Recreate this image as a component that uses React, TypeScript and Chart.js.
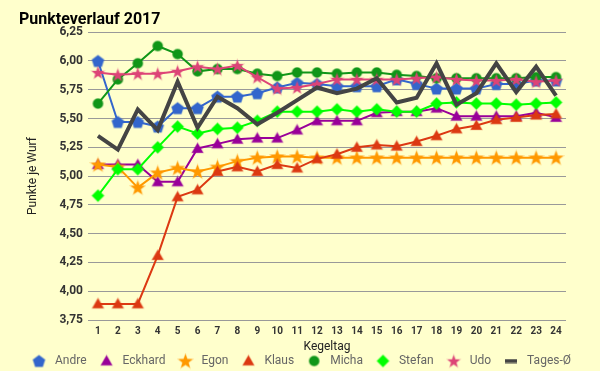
import React, { useEffect, useRef } from 'react';
import { Chart, registerables } from 'chart.js';

Chart.register(...registerables);

const kegeltage = ['1','2','3','4','5','6','7','8','9','10','11','12','13','14','15','16','17','18','19','20','21','22','23','24'];

const andre = [6.00, 5.47, 5.47, 5.43, 5.59, 5.59, 5.69, 5.69, 5.72, 5.77, 5.81, 5.80, 5.78, 5.78, 5.78, 5.84, 5.80, 5.76, 5.76, 5.76, 5.80, 5.80, 5.83, 5.83];
const eckhard = [5.10, 5.10, 5.10, 4.95, 4.95, 5.24, 5.28, 5.32, 5.33, 5.33, 5.40, 5.48, 5.48, 5.48, 5.55, 5.56, 5.56, 5.59, 5.52, 5.52, 5.52, 5.52, 5.55, 5.51];
const egon = [5.10, 5.08, 4.90, 5.03, 5.07, 5.04, 5.08, 5.13, 5.16, 5.17, 5.17, 5.16, 5.16, 5.16, 5.16, 5.16, 5.16, 5.16, 5.16, 5.16, 5.16, 5.16, 5.16, 5.16];
const klaus = [3.89, 3.89, 3.89, 4.31, 4.82, 4.88, 5.04, 5.08, 5.04, 5.10, 5.07, 5.15, 5.19, 5.25, 5.27, 5.26, 5.30, 5.35, 5.41, 5.44, 5.49, 5.51, 5.53, 5.54];
const micha = [5.63, 5.84, 5.98, 6.13, 6.06, 5.91, 5.93, 5.93, 5.89, 5.87, 5.90, 5.90, 5.89, 5.90, 5.90, 5.88, 5.87, 5.85, 5.85, 5.85, 5.85, 5.85, 5.86, 5.86];
const stefan = [4.83, 5.06, 5.06, 5.25, 5.43, 5.37, 5.41, 5.42, 5.48, 5.56, 5.56, 5.56, 5.58, 5.56, 5.58, 5.56, 5.56, 5.63, 5.64, 5.63, 5.63, 5.62, 5.63, 5.64];
const udo = [5.90, 5.88, 5.89, 5.89, 5.91, 5.95, 5.93, 5.96, 5.86, 5.76, 5.77, 5.80, 5.84, 5.84, 5.84, 5.84, 5.85, 5.86, 5.84, 5.83, 5.83, 5.84, 5.82, 5.83];
const tagesSchnitt = [5.35, 5.23, 5.58, 5.40, 5.82, 5.42, 5.69, 5.59, 5.45, 5.55, 5.66, 5.77, 5.72, 5.76, 5.85, 5.64, 5.68, 5.98, 5.62, 5.72, 5.98, 5.73, 5.95, 5.70];

const seriesNames = ['Andre', 'Eckhard', 'Egon', 'Klaus', 'Micha', 'Stefan', 'Udo', 'Tages-Ø'];
const seriesValues = [andre, eckhard, egon, klaus, micha, stefan, udo, tagesSchnitt];
const seriesColors = ['#3366cc', '#990099', '#ff9900', '#dc3912', '#109618', '#00ff00', '#dd4477', '#444444'];
const seriesShapes = ['pentagon', 'triangle', 'star', 'triangle', 'circle', 'diamond', 'star', 'bar'];
const seriesMarkerSize = [6.3, 5.6, 7.4, 5.6, 5, 6, 6.4, 0];

const chartTitle = 'Punkteverlauf 2017';

function hexA(hex: string, a: number) {
  const r = parseInt(hex.slice(1, 3), 16);
  const g = parseInt(hex.slice(3, 5), 16);
  const b = parseInt(hex.slice(5, 7), 16);
  return `rgba(${r},${g},${b},${a})`;
}

function makeMarker(shape: string, color: string, r: number): HTMLCanvasElement {
  const c = document.createElement('canvas');
  if (shape === 'bar') {
    c.width = 12; c.height = 5;
    const ctx = c.getContext('2d')!;
    ctx.fillStyle = color;
    ctx.fillRect(0, 0.5, 12, 4);
    return c;
  }
  const s = 17;
  c.width = s; c.height = s;
  const ctx = c.getContext('2d')!;
  const cx = s / 2, cy = s / 2;
  ctx.beginPath();
  if (shape === 'pentagon') {
    for (let k = 0; k < 5; k++) {
      const a = -Math.PI / 2 + k * 2 * Math.PI / 5;
      const x = cx + r * Math.cos(a), y = cy + 0.6 + r * Math.sin(a);
      if (k === 0) ctx.moveTo(x, y); else ctx.lineTo(x, y);
    }
  } else if (shape === 'star') {
    const ri = r * 0.42;
    for (let k = 0; k < 10; k++) {
      const a = -Math.PI / 2 + k * Math.PI / 5;
      const rr = k % 2 === 0 ? r : ri;
      const x = cx + rr * Math.cos(a), y = cy + 0.6 + rr * Math.sin(a);
      if (k === 0) ctx.moveTo(x, y); else ctx.lineTo(x, y);
    }
  } else if (shape === 'triangle') {
    ctx.moveTo(cx, cy - r);
    ctx.lineTo(cx + r, cy + r * 0.75);
    ctx.lineTo(cx - r, cy + r * 0.75);
  } else if (shape === 'circle') {
    ctx.arc(cx, cy, r, 0, Math.PI * 2);
  } else if (shape === 'diamond') {
    ctx.moveTo(cx, cy - r);
    ctx.lineTo(cx + r, cy);
    ctx.lineTo(cx, cy + r);
    ctx.lineTo(cx - r, cy);
  }
  ctx.closePath();
  ctx.fillStyle = color;
  ctx.fill();
  ctx.lineWidth = 1.2;
  ctx.strokeStyle = hexA(color, 0.35);
  ctx.stroke();
  return c;
}

const bgPlugin = {
  id: 'bgFill',
  beforeDraw(chart: any) {
    const ctx = chart.ctx;
    ctx.save();
    ctx.fillStyle = '#ffffcc';
    ctx.fillRect(0, 0, chart.width, chart.height);
    ctx.restore();
  },
  afterDraw(chart: any) {
    const ctx = chart.ctx;
    ctx.save();
    ctx.fillStyle = '#000000';
    ctx.font = 'bold 16px Roboto';
    ctx.textAlign = 'left';
    ctx.textBaseline = 'middle';
    ctx.fillText(chartTitle, 19, 19.6);
    ctx.restore();
  },
};

export default function App() {
  const ref = useRef<HTMLCanvasElement | null>(null);
  useEffect(() => {
    if (!ref.current) return;
    const datasets = seriesNames.map((name, i) => {
      const isAvg = seriesShapes[i] === 'bar';
      return {
        label: name,
        data: seriesValues[i],
        borderColor: seriesColors[i],
        backgroundColor: seriesColors[i],
        borderWidth: isAvg ? 4 : 2,
        pointStyle: makeMarker(seriesShapes[i], seriesColors[i], seriesMarkerSize[i]),
        pointRadius: isAvg ? 0 : 5,
        tension: 0,
        fill: false,
        yAxisID: 'y',
        order: seriesNames.length - 1 - i,
      };
    });
    const chart = new Chart(ref.current, {
      type: 'line',
      data: { labels: kegeltage, datasets },
      plugins: [bgPlugin],
      options: {
        responsive: false,
        animation: false,
        events: [],
        layout: { padding: { left: 0, right: 0, top: 32.2, bottom: 0 } },
        font: { family: 'Roboto' },
        plugins: {
          title: { display: false },
          legend: {
            display: true,
            position: 'bottom',
            maxHeight: 26,
            labels: {
              usePointStyle: true,
              pointStyleWidth: 20,
              color: '#666666',
              font: { family: 'Roboto', size: 12 },
              padding: 10,
              sort: (a: any, b: any) => a.datasetIndex - b.datasetIndex,
            },
          },
          tooltip: { enabled: false },
        },
        scales: {
          x: {
            offset: true,
            grid: { display: false, drawTicks: false },
            border: { display: false },
            ticks: {
              color: '#333333',
              font: { family: 'Roboto', size: 10, weight: 'bold' },
              padding: 5,
              maxRotation: 0,
              autoSkip: false,
            },
            title: {
              display: true,
              text: 'Kegeltag',
              color: '#222222',
              font: { family: 'Roboto', size: 12 },
              padding: { top: 0, bottom: -9.2 },
            },
            afterFit: (scale: any) => { scale.height = 25; },
          },
          y: {
            min: 3.75,
            max: 6.25,
            grid: { color: '#999999', lineWidth: 1, drawTicks: false },
            border: { display: false },
            ticks: {
              stepSize: 0.25,
              color: '#333333',
              font: { family: 'Roboto', size: 12, weight: 'bold' },
              padding: 5,
              callback: (v: any) => Number(v).toFixed(2).replace('.', ','),
            },
            title: {
              display: true,
              text: 'Punkte je Wurf',
              color: '#222222',
              font: { family: 'Roboto', size: 12 },
              padding: { top: 25.8, bottom: 0 },
            },
            afterFit: (scale: any) => { scale.width = 88; },
          },
          yRight: {
            type: 'linear',
            position: 'right',
            min: 0,
            max: 1,
            grid: { display: false, drawTicks: false },
            border: { display: false },
            ticks: { display: false },
            afterFit: (scale: any) => { scale.width = 34; },
          },
        },
      },
    } as any);
    return () => chart.destroy();
  }, []);
  return (
    <div style={{ position: 'absolute', left: 0, top: 0, width: 600, height: 371 }}>
      <canvas ref={ref} width={600} height={371} style={{ display: 'block' }} />
    </div>
  );
}
